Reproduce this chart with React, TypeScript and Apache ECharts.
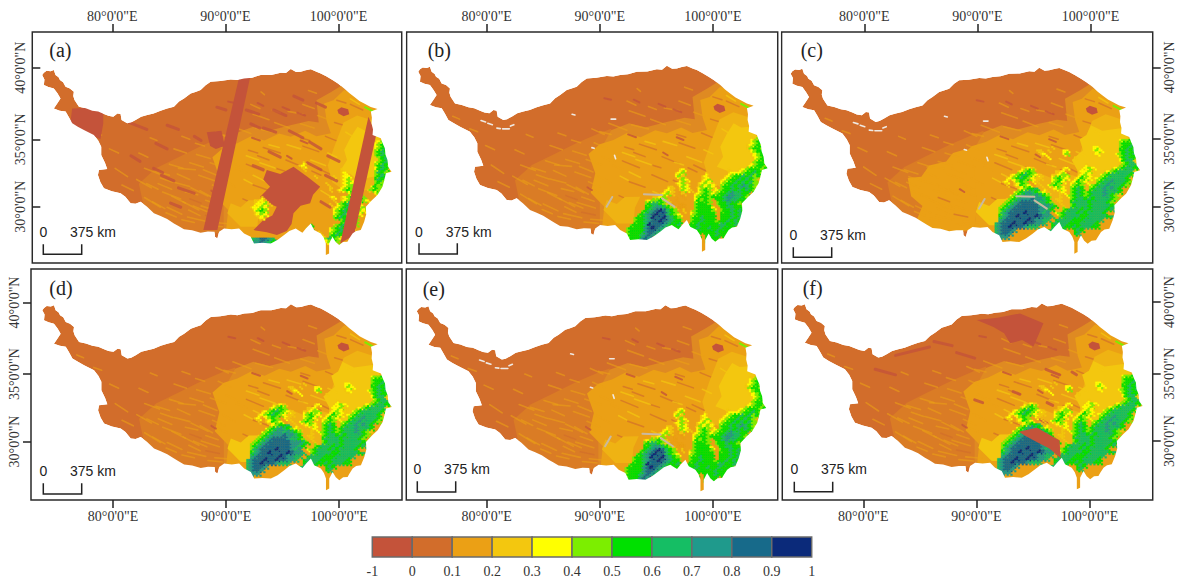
import React, { useEffect, useRef } from "react";
import * as echarts from "echarts";

const CLASS_COLORS = ["#C4533A", "#D26D2B", "#EBA015", "#F3C70F", "#FFFF00", "#7CEE00", "#00E000", "#15BE64", "#1F9A8C", "#176A8A", "#0B2A7A"];
const MIX_WEST = "#DA7C25";
const MIX_HALO = "#DF8A22";
const MIX_YELLOW = "#EFB313";
const LEGEND_TICKS = ["-1", "0", "0.1", "0.2", "0.3", "0.4", "0.5", "0.6", "0.7", "0.8", "0.9", "1"];
const LON_TICKS = [80, 90, 100];
const LAT_TICKS = [40, 34.85, 30];

const OUTLINE = [
  [73.95,39.71],[74.1,39.88],[74.34,40.02],[74.7,39.98],[74.98,40.07],[75.13,39.71],[75.4,39.55],[75.52,39.35],[75.8,39.2],[76.02,38.87],[76.4,38.75],[76.75,38.51],[76.7,38.2],[76.81,37.91],[77.2,37.43],
  [77.8,37.32],[78.38,37.15],[78.9,37.08],[79.41,36.91],[79.8,36.78],[80.24,36.72],[80.6,36.95],[80.88,36.91],[80.97,36.48],[81.47,36.24],[81.8,36.3],[82.21,36.48],[82.7,36.72],[83.24,36.84],[83.8,36.95],[84.42,37.15],
  [85,37.3],[85.6,37.43],[86.05,37.8],[86.49,38.03],[87.08,38.39],[87.5,38.5],[87.96,38.63],[88.4,38.98],[88.85,39.23],[89.7,39.28],[90.62,39.4],[91.2,39.36],[91.8,39.47],[92.5,39.52],[93.27,39.71],
  [94.2,39.72],[95.04,39.88],[95.5,39.85],[95.93,40.14],[96.4,39.93],[96.81,39.95],[97.25,40.05],[97.7,40.12],[98.2,39.95],[98.58,39.83],[99.1,39.6],[99.62,39.35],[100.1,39.1],[100.65,38.75],[101.1,38.42],
  [101.53,38.15],[102,37.85],[102.42,37.67],[103,37.42],[103.6,37.27],[103.01,37.08],[103.1,36.65],[103.07,36.24],[103.2,35.8],[103.16,35.4],[103.89,35.16],[104.05,34.8],[104.25,34.44],[104.3,34],[104.48,33.6],
  [104.55,33.1],[104.84,32.76],[104.34,32.64],[104.2,32.15],[104.04,31.68],[103.6,31.08],[103.1,30.7],[102.57,30.24],[102.6,29.7],[102.42,29.16],[102.12,28.56],[101.7,28.5],[101.39,28.32],[101.1,27.95],[100.94,27.72],
  [100.55,27.7],[100.21,27.48],[99.9,27.7],[99.62,28.08],[99.32,27.6],[99.32,26.88],[99.03,26.76],[99.03,27.6],[98.85,28],[98.58,28.32],[97.99,28.56],[97.7,29.04],[97.3,28.7],[96.96,28.37],[96.6,28.55],
  [96.37,28.68],[95.8,28.5],[95.34,28.2],[94.75,27.85],[94.16,27.6],[93.4,27.65],[92.68,27.6],[92.39,28.08],[91.8,28.32],[91.36,28.68],[90.7,28.62],[90.03,28.68],[89.59,28.44],[89.44,27.96],[89.23,28.08],
  [89.2,28.44],[88.6,28.45],[87.96,28.37],[87.2,28.55],[86.49,28.61],[86,28.85],[85.6,29.04],[85,29.35],[84.42,29.57],[83.83,29.76],[83.2,30.25],[82.65,30.6],[82.2,30.45],[81.77,30.48],[81.3,30.95],
  [80.88,31.2],[80.1,31.35],[79.41,31.56],[79.1,32],[78.88,32.52],[78.97,32.88],[79.7,32.95],[79.5,33.4],[79.17,33.96],[79.17,34.56],[78.9,35],[78.52,35.4],[77.64,35.76],[77.1,36],[76.61,36.24],
  [76.3,36.7],[76.02,37.08],[75.5,37.15],[74.98,37.31],[75.28,37.67],[75.57,38.03],[75.3,38.4],[74.98,38.75],[74.5,38.85],[74.1,38.99],[74.15,39.4],
];

const ZONE_MIX_WEST = [[82.5,31.9],[84,33],[86,33.8],[88,34.6],[90,35.3],[91,35.6],[91,28.4],[86,28.2],[84,29.2],[83,30]];
const ZONE_HALO = [[91,35.5],[92.6,36],[94,35.7],[95.9,36.1],[97.5,36.4],[98.4,36.3],[98.2,37.9],[99.5,38.5],[100.5,39],[104.9,38],[104.9,26.7],[92,26.7],[90,28.3],[90,34]];
const ZONE_ORANGE = [[89,33.8],[90,34.5],[91.2,34.8],[92.4,35.3],[93.6,35],[94.9,35.5],[95.93,35.28],[97.2,35.7],[98.2,35.3],[99.47,35.52],[99.1,36.4],[98.88,37.67],[99.7,37.9],[100.65,38.63],[104.9,37.4],[104.9,26.7],[92.98,26.7],[91.5,28.1],[90.2,28.5],[90.4,30],[89.2,31],[89.6,32.4]];
const ZONE_ORANGE_WEST = [[84.3,32.2],[85.5,32.3],[86.2,33.1],[87.7,33.4],[88.3,34],[89.5,34.3],[90.2,33],[90.4,30],[90.2,28.5],[87,28.2],[85,29],[85.6,30.2],[84.6,30.9]];
const ZONE_YELLOW_HALO = [[99.8,34.6],[100.6,36.3],[101.8,36.8],[103.3,36.4],[104.8,34.5],[104.9,32],[103,31.5],[101,31.2],[99.6,32],[99.2,33.2]];
const ZONE_YELLOW_EAST = [[100.65,34.32],[101.2,35.2],[101.83,36],[102.5,35.7],[103.3,35.76],[104,34.9],[104.5,33.84],[104.66,32.4],[103.2,32.4],[101.83,32.16],[101.2,32.6],[100.35,32.88],[100.9,33.6]];
const ZONE_YELLOW_SOUTH = [[90.62,30.48],[91.5,30.2],[92.2,30.7],[93.57,30.72],[93.1,29.9],[92.98,28.8],[91.5,28.8],[90.32,29.76]];
const ZONE_YELLOW_EAST_WIDE = [[99.5,35],[100.1,35.3],[100.5,36],[101.5,35.6],[103.3,35.8],[104.6,33.8],[104.6,32.4],[101.8,32],[100,31.5],[99.4,32.6],[98.8,33.5],[99.8,34.2]];
const ZONE_YELLOW_MID = [[95.8,32.6],[97,32.2],[98.4,32.5],[100.3,32.1],[100.5,29.5],[99,30.2],[97.5,29.5],[96.8,30.8],[95.6,31.3]];
const LAKE = [[100.05,37.2],[100.4,37.4],[101,37.25],[101.1,36.9],[100.6,36.75],[100.15,36.95]];

const STREAKS_ORANGE = [
  [82.3,32.2,83.6,31.6],[83,30.9,84.4,30.2],[84,32.8,85.2,32.5],[84.6,31.3,86.2,30.8],[85,30.2,86.3,29.7],[85.6,32,87,31.7],[86,33,87.5,32.9],[86.4,30.6,87.8,30],
  [86.8,29.5,88.4,29.2],[87.1,31.6,88.6,31],[87.8,32.5,89.2,32.1],[88,30.3,89.6,29.9],[88.8,33.4,90.2,33],[88.9,31.4,90.3,30.9],[89.2,29.1,90.6,29],[89.9,32.2,91,31.7],
  [90.2,33.6,91.3,33.2],[90.6,30.4,91.8,30],[80.4,33,81.5,32.4],[81,31.8,82,31.4],[79.9,34.4,80.7,34.1],[82.5,34.1,83.3,33.8],[83.5,35.2,84.1,35],[85.6,34.4,86.7,34.1],
  [87.5,34.8,88.3,34.6],[89.3,35.6,90.4,35.2],[90.8,36,92.4,35.5],[92.6,36.9,94,36.5],[94.5,36.3,95.8,35.9],[95.7,37.1,97,36.9],[92.8,35.9,94.3,35.6],[96.8,36.2,98,35.9],
  [98.3,36.8,99.3,36.5],[77,36.5,77.6,36.3],[78.5,35.6,79.2,35.4],[93.3,38.5,93.6,38.3],
  [84.2,31.9,85.4,31.5],[84.9,29.8,85.8,29.5],[85.4,31,86.6,30.5],[85.9,32.6,87,32.2],[86.3,29.3,87.4,29.1],[86.6,31.3,87.7,31.1],[87,33.4,88.2,33.1],[87.3,30.3,88.5,29.9],
  [87.9,31.4,89,30.9],[88.2,32.9,89.4,32.5],[88.4,30.7,89.5,30.4],[88.6,28.9,89.9,28.8],[89,31.8,90.1,31.4],[83.2,31.9,84.2,31.5],[83.7,30.6,84.8,30.1],[84.4,32.3,85.5,32],
  [85.2,33.3,86.4,33],[86.9,30,87.9,29.6],[83,33,84.3,32.6],[87.6,34,88.8,33.7],[89.5,34.6,90.6,34.2],[86.3,35.3,87,35.1],
  [90,35.4,91,35.2],[92.4,37.6,93.2,37.3],[94.3,37.2,95,37],[97,37.6,98,37.3],[97.5,38.6,98.2,38.4],[91.1,33,92,32.7],
];
const STREAKS_BROWN = [
  [92,33.3,93.5,32.8],[93.5,34.5,95,34.1],[95.5,33.6,97,33.1],[97,34.6,98.4,34.2],[92.6,31.8,94,31.4],[94.6,32.3,96,31.8],[96.5,31.9,98,31.3],[98.3,33,99.6,32.5],
  [91.7,30.8,92.8,30.4],[99,35.3,100.2,34.9],[99.8,36.3,101,36],[101.2,37.6,102.3,37.2],[88.4,29.6,89.6,29.4],[87,30.8,88,30.5],[91,29.9,92,29.5],[93,33.9,94,33.6],
  [96.8,35.2,97.6,35],[100,37.9,100.8,37.7],[94.6,33,95.4,32.8],[92.2,34.3,93,34.1],[97.8,32.8,98.6,32.5],
];
const STREAKS_YELLOW = [
  [93.2,33.4,94.6,33],[95.6,34.7,96.8,34.4],[97.7,33.6,99,33.2],[92.6,32.5,93.6,32.1],[94.7,31.1,95.5,30.8],[98.6,31.4,99.4,31],[99.2,34.1,100,33.8],[101.2,38,102,37.6],
  [100.8,35.6,101.4,35.3],[91.8,32.2,92.5,31.9],[92,33.9,93.1,33.6],[96.6,33.2,97.4,33],[94,34.7,94.9,34.5],
];
const STREAKS_DARK = [
  [95.2,37.4,95.8,37.2],[93,37.7,93.5,37.5],[90.4,37.8,91,37.7],[96.5,37,97.2,36.8],[88.9,31.4,89.3,31.2],[92.5,35.2,93.2,35],[96.8,35,97.4,34.8],[95.6,33.9,96,33.7],
];
const STREAKS_NE_GREEN = [[102.5,37.4,103.2,37.1]];
const GAPS = [
  [80.9,35.65,81.2,35.62],[81.4,35.6,82,35.6],[87.55,36.65,87.8,36.6],[91.3,33.7,91.4,33.45],[89.3,34.25,89.5,34.2],[91,36.3,91.4,36.3],[79.5,36.2,79.9,36.1],[80.1,36,80.5,35.9],[82.1,35.8,82.4,35.9],
];
const SNOW = [[93.9,30.9,95.5,30.85],[95.5,30.6,96.6,30],[91.1,30.7,90.6,30]];

const RASTER_BE = [
  "..................................33545",
  "..................................45655",
  ".................................345655",
  ".................................356656",
  "..................................45665",
  "..................................34565",
  "...................................4566",
  "..................................35665",
  ".................................345665",
  "...............34...........3..34566656",
  "..............345.....3.....34445667656",
  "..............453....34....34566767565",
  "...............354...345..3456676765",
  "..............3453..34543.45667676755",
  "............33.454..35454.56676787654",
  "...........343.3543.45653456676767653",
  "..........3453.23..345654566787766",
  "........3345..2.2..456656667887765",
  "......3455653.2....46565.66787766",
  "......56776532.22..56665.5667665",
  "......66788765322..566664.6677666",
  ".....56789a9765.3.3566665.5667676",
  "....56789a997654..4566666.6667676",
  "...56678a99a8765..5667666.66676767",
  "...5667899a98766..56676665667676",
  "..56667a99987667.56676666677667",
  ".5666689a9876666.5667667667666",
  ".56666899876656.56676666676665",
  ".5666789875.66.667666.666766",
  "56666898........6676..6766",
  "6666688.........6676..676",
  "................667",
  "................66",
  "................67",
  "................67",
];
const RASTER_CDF = [
  ".................................45565",
  ".................................56665",
  "...............3..........44.....56676",
  "...........33.3...44......454....66767",
  "............34....45......34....456767",
  "..............4......3...........56766",
  ".................................4677",
  "........................3........35677",
  ".......3343.......34...3454....345677668",
  "......34565.....334...34453..34567777",
  "....345676543..33455..34543.456777776",
  "...3456765433..45654.346543456777776",
  "..34.4565.43...4564.34654..5677877765",
  "...3.34654..3.45653.4565.45677877765",
  "......345667.3.3454.5676.567787876",
  ".....4567876543..34.56765677787776",
  "....45678878765..3.456765677787653",
  "...356788898876.33..5677676777765",
  "..35678999987765.3..677776777765",
  ".3567899999988876.3.5677767777767",
  ".567899999998876..56777676777767",
  ".5789999a999878.45677767677776",
  ".67899a9999a9887.567777667777767",
  ".78999999a98877.6777766677777",
  "78999a99a99887.6777766677776",
  "7899a9998777...6777667677766",
  "789998........67766..676",
  "78998.........6776...67",
  "7888..........677",
  "................677",
  "................67",
  "................67",
  "................67",
];
const RASTER_A = [
  "..................................34565",
  "..................................45675",
  "..................................45676",
  "..................................56765",
  "..................................56765",
  "...................................5676",
  "...............3..................45676",
  "..............34..................56765",
  "...............3.........3........4676",
  ".........................34.......5765",
  "..................3....3.344......5676",
  ".........................3453.....676",
  ".....................3...34544....565",
  "......................3..34555...4655",
  "......................3.34565...3565",
  "...........................4565...45",
  "....3.................34.3456565....4",
  "..3343.................3.34565654",
  "..34453...............3.4567564",
  ".34454.................345675645",
  "..4565.................456765654",
  "..3454.................45675654",
  "...34..................5676565",
  ".........................56765",
  ".................6.....3567565",
  "................56....4567654",
  ".................5.3..456765",
  "....................3.56765",
  "56789987............457654",
  "56889876..........56.4565",
  "5678987..........567",
  "................56",
  "................56",
  "................56",
];
const A_STRIPE_MID = [[91.36,39.54],[92.33,39.54],[89.44,28.56],[88.2,28.56]];
const A_STRIPE_EAST = [[102.8,36.71],[103.48,35.4],[101.54,28.2],[100.3,27.6]];
const A_BLOCK_WEST = [[76.6,37.3],[79.35,37.4],[79.35,36.2],[79.1,35.1],[78.3,35.4],[76.4,36]];
const A_BLOT_SOUTH = [[93.81,32.88],[95,32.6],[96.17,33.12],[97.4,32.4],[98.53,31.68],[97.9,31.1],[97.64,30.48],[96.8,30.3],[96.17,29.76],[96,29],[95.58,28.5],[94.7,28.2],[93.81,28.4],[92.63,28.56],[93.51,29.28],[94.3,29.6],[94.69,30.24],[93.9,30.5],[93.22,30.96],[94.1,31.68],[93.5,32.2]];
const A_BLOT_NORTH = [[88.5,35.6],[89.8,35.7],[90.1,34.6],[89.3,34.4],[88.8,34.6]];
const A_STREAKS = [
  [81.6,36.3,83.2,35.8],[84.5,32.5,85.6,32.1],[85.3,30.5,86.2,30.2],[86,31.6,87.4,31.2],[83.8,33,84.6,32.7],[87.4,35.3,88,35],[85,36.1,86,35.8],[92,37.2,93.1,36.9],
  [94.4,37.2,95.5,36.8],[96.2,38.2,97,37.9],[98.2,37.7,99,37.4],[93.5,35.9,94.6,35.6],[95.8,35.7,97,35.2],[97.6,34.9,98.6,34.4],[99.2,33.9,100.2,33.5],[97.4,33.4,98.6,32.9],
  [94,34.2,95,33.8],[92.6,33.2,93.5,32.9],[99,32.5,100,32.1],[98.6,30.6,99.4,30.2],[92.4,36.2,93.2,35.9],[89.4,37.4,90.2,37.2],[84,34.8,85,34.4],[81.8,33.9,82.6,33.5],
];
const F_NORTH = [[90.18,38.94],[92,39.1],[94.01,39.42],[96.08,38.71],[95.6,37.8],[95.19,37.03],[94.2,37.5],[93.13,37.27],[92.6,38],[91.65,38.44]];
const F_SOUTH_BROWN = [[93.9,30.9],[95.5,31.2],[97.5,30.3],[97.6,29],[96.6,29.7],[95.4,30.2],[94.5,30.6]];
const F_STREAKS = [[83,36.4,86,37],[90,33.2,90.7,33],[93.4,33.8,94,33.6],[95.6,31.9,96.4,31.5],[96.4,33,96.9,32.8],[98.6,35.2,99,35],[86.4,37.4,88,37.1],[88.4,36.6,90,36.2],[96.3,35.4,97.5,35],[81.2,35.4,83,35]];

const PANELS = [
  { id: "(a)", left: 32.3, top: 32, width: 369.4, height: 231, tick80: 112.3, lat40: 67.7, dLon: -0.15, dLat: -0.24, xPos: "top", yPos: "left", inside: true, raster: RASTER_A, tag: [49.3, 50], bar: [43.3, 81.7, 244.3, 254.3, 232.3, 70] },
  { id: "(b)", left: 406.7, top: 32, width: 371, height: 231, tick80: 486.7, lat40: 67.7, dLon: 0, dLat: 0, xPos: "top", yPos: "", inside: false, raster: RASTER_BE, tag: [427.7, 50], bar: [419, 457.3, 243.3, 254, 231.7, 445.7] },
  { id: "(c)", left: 781.7, top: 32, width: 371, height: 231, tick80: 864.3, lat40: 67.3, dLon: -0.46, dLat: -0.17, xPos: "top", yPos: "right", inside: false, raster: RASTER_CDF, tag: [800.7, 50], bar: [793.3, 831.7, 247.3, 257.3, 235, 820] },
  { id: "(d)", left: 31, top: 269, width: 371, height: 231, tick80: 113, lat40: 302.5, dLon: -0.2, dLat: -0.27, xPos: "bottom", yPos: "left", inside: false, raster: RASTER_CDF, tag: [49.3, 288], bar: [43.3, 81.7, 483.3, 494, 471, 70] },
  { id: "(e)", left: 406.3, top: 269, width: 371.4, height: 231, tick80: 486.7, lat40: 302, dLon: -0.13, dLat: -0.38, xPos: "bottom", yPos: "", inside: false, raster: RASTER_BE, tag: [422.7, 288.7], bar: [417.3, 455.7, 481.3, 492, 469.3, 444] },
  { id: "(f)", left: 782.3, top: 269, width: 370.4, height: 231, tick80: 863.3, lat40: 302, dLon: -0.15, dLat: -0.24, xPos: "bottom", yPos: "right", inside: false, raster: RASTER_CDF, tag: [802.7, 288.3], bar: [794.3, 832.7, 481.7, 491.7, 469.3, 821] },
];

const PX_PER_LON = 11.31;
const PX_PER_LAT = 13.9;
const SERIF = "Liberation Serif";
const SANS = "Liberation Sans";
const LABEL_SIZE = 14;

function poly(pts: number[][], fill: string) { return { k: "poly", pts, fill }; }
function lines(list: number[][], color: string, w: number, opacity = 1) {
  return list.map((s) => ({ k: "line", pts: [[s[0], s[1]], [s[2], s[3]]], stroke: color, w, opacity }));
}
function classAt(raster: string[], r: number, c: number) {
  const row = raster[r];
  if (!row || c < 0 || c >= row.length || row[c] === ".") return -1;
  return row[c] === "a" ? 10 : Number(row[c]);
}
function cells(raster: string[]) {
  const out: any[] = [];
  const dLon = 1 / 6;
  const dLat = 0.125;
  const sub = (lon: number, lat: number, cls: number) => {
    if (cls < 0) return;
    out.push({ k: "poly", pts: [[lon, lat], [lon + dLon, lat], [lon + dLon, lat - dLat], [lon, lat - dLat]], fill: CLASS_COLORS[cls], edge: true });
  };
  raster.forEach((row, r) => {
    for (let c = 0; c < row.length; c++) {
      const v = classAt(raster, r, c);
      if (v < 0) continue;
      const lon = 92 + c / 3;
      const lat = 35 - r * 0.25;
      sub(lon, lat, v);
      sub(lon + dLon, lat - dLat, v);
      sub(lon + dLon, lat, classAt(raster, r, c + 1));
      sub(lon, lat - dLat, classAt(raster, r + 1, c));
    }
  });
  return out;
}

function panelItems(id: string, raster: string[]) {
  const wide = id === "(c)" || id === "(d)" || id === "(f)";
  const hasGaps = id === "(b)" || id === "(c)" || id === "(e)";
  const C = CLASS_COLORS;
  const items: any[] = [poly(OUTLINE, C[1]), poly(ZONE_MIX_WEST, MIX_WEST), poly(ZONE_HALO, MIX_HALO), poly(ZONE_ORANGE, C[2])];
  if (id === "(c)") items.push(poly(ZONE_ORANGE_WEST, C[2]));
  items.push(...lines(STREAKS_ORANGE, C[2], 1.6, 0.6), ...lines(STREAKS_BROWN, C[1], 1.5, 0.7));
  items.push(poly(ZONE_YELLOW_HALO, MIX_YELLOW), poly(wide ? ZONE_YELLOW_EAST_WIDE : ZONE_YELLOW_EAST, C[3]), poly(ZONE_YELLOW_SOUTH, wide ? C[3] : MIX_YELLOW), ...lines(STREAKS_YELLOW, C[3], 1.6, 0.7));
  if (wide) items.push(poly(ZONE_YELLOW_MID, MIX_YELLOW));
  items.push(poly(LAKE, C[0]), ...lines(STREAKS_DARK, C[0], 2, 0.8), ...lines(STREAKS_NE_GREEN, C[5], 2));
  if (id === "(f)") items.push(poly(F_NORTH, C[0]), ...lines(F_STREAKS, C[0], 3, 0.8));
  if (id === "(a)") items.push(poly(A_BLOT_SOUTH, C[0]), poly(A_BLOT_NORTH, C[0]), ...lines(A_STREAKS, C[0], 3, 0.8));
  items.push(...cells(raster));
  if (id === "(f)") items.push(poly(F_SOUTH_BROWN, C[0]));
  if (hasGaps) items.push(...lines(GAPS, "#EFE9E2", 1.6), ...lines(SNOW, "#C9B9A0", 2));
  if (id === "(a)") items.push(poly(A_STRIPE_MID, C[0]), poly(A_STRIPE_EAST, C[0]), poly(A_BLOCK_WEST, C[0]));
  items.push({ k: "mask" });
  return items;
}

function buildOption() {
  const grid: any[] = [];
  const xAxis: any[] = [];
  const yAxis: any[] = [];
  const series: any[] = [];
  const elements: any[] = [];
  const axisLine = { show: false };
  const tickLine = { color: "#222", width: 1.5 };

  PANELS.forEach((p, i) => {
    const lonMin = 80 - (p.tick80 - p.left) / PX_PER_LON;
    const latMax = 40 + (p.lat40 - p.top) / PX_PER_LAT;
    grid.push({ left: p.left, top: p.top, width: p.width, height: p.height, show: true, borderColor: "#2A2A2A", borderWidth: 1.5, backgroundColor: "#fff" });
    xAxis.push({
      type: "value", gridIndex: i, position: p.xPos, min: lonMin, max: lonMin + p.width / PX_PER_LON, z: 10,
      splitLine: { show: false }, axisLine,
      axisTick: { show: true, length: 8, lineStyle: tickLine, customValues: LON_TICKS },
      axisLabel: { show: true, margin: 9, fontFamily: SERIF, fontSize: LABEL_SIZE, color: "#333", customValues: LON_TICKS, formatter: (v: number) => `${Math.round(v)}°0'0"E` },
    });
    yAxis.push({
      type: "value", gridIndex: i, position: p.yPos || "left", show: !!p.yPos, min: latMax - p.height / PX_PER_LAT, max: latMax, z: 10,
      splitLine: { show: false }, axisLine,
      axisTick: { show: true, inside: p.inside, length: 8, lineStyle: tickLine, customValues: LAT_TICKS },
      axisLabel: { show: true, rotate: 90, margin: p.inside ? 5 : 10, fontFamily: SERIF, fontSize: LABEL_SIZE, color: "#333", customValues: LAT_TICKS, formatter: (v: number) => `${Math.round(v / 5) * 5}°0'0"N` },
    });
    const items = panelItems(p.id, p.raster);
    series.push({
      type: "custom", xAxisIndex: i, yAxisIndex: i, silent: true, progressive: 0, animation: false, clip: true,
      data: items.map((_, n) => n),
      renderItem: (params: any, api: any) => {
        const it = items[params.dataIndex];
        const at = (q: number[]) => api.coord([q[0] + p.dLon, q[1] + p.dLat]);
        if (it.k === "poly") {
          const style: any = { fill: it.fill };
          if (it.edge) { style.stroke = it.fill; style.lineWidth = 0.3; }
          return { type: "polygon", shape: { points: it.pts.map(at) }, style };
        }
        if (it.k === "line") {
          return { type: "polyline", shape: { points: it.pts.map(at) }, style: { fill: "none", stroke: it.stroke, lineWidth: it.w, lineCap: "round", opacity: it.opacity } };
        }
        const cs = params.coordSys;
        const x0 = cs.x + 1, y0 = cs.y + 1, x1 = cs.x + cs.width - 1, y1 = cs.y + cs.height - 1;
        const ring = OUTLINE.map(at);
        const points = [[x0, y0], [x0, y1], [x1, y1], [x1, y0], [x0, y0], ...ring, ring[0]];
        return { type: "polygon", shape: { points }, style: { fill: "#FFFFFF" } };
      },
    });
    elements.push({ type: "text", x: p.tag[0], y: p.tag[1], z: 20, style: { text: p.id, fontFamily: SERIF, fontSize: 20, fill: "#222", textVerticalAlign: "middle" } });
    const [bx0, bx1, by0, by1, ty, kx] = p.bar;
    elements.push({ type: "polyline", z: 20, shape: { points: [[bx0, by0], [bx0, by1], [bx1, by1], [bx1, by0]] }, style: { fill: "none", stroke: "#222", lineWidth: 1.5 } });
    elements.push({ type: "text", x: bx0, y: ty, z: 20, style: { text: "0", fontFamily: SANS, fontSize: 14, fill: "#222", textAlign: "center", textVerticalAlign: "middle" } });
    elements.push({ type: "text", x: kx, y: ty, z: 20, style: { text: "375 km", fontFamily: SANS, fontSize: 14, fill: "#222", textVerticalAlign: "middle" } });
  });

  const li = PANELS.length;
  grid.push({ left: 372.3, top: 537, width: 439.4, height: 20, show: false });
  const ticks = LEGEND_TICKS.map((_, n) => n);
  xAxis.push({
    type: "value", gridIndex: li, min: 0, max: CLASS_COLORS.length, splitLine: { show: false },
    axisLine: { show: false }, axisTick: { show: false, customValues: ticks },
    axisLabel: { show: true, margin: 7, fontFamily: SERIF, fontSize: LABEL_SIZE, color: "#333", customValues: ticks, formatter: (v: number) => LEGEND_TICKS[Math.round(v)] },
  });
  yAxis.push({ type: "value", gridIndex: li, min: 0, max: 1, show: false });
  series.push({
    type: "custom", xAxisIndex: li, yAxisIndex: li, silent: true, animation: false,
    data: CLASS_COLORS.map((_, n) => n),
    renderItem: (params: any, api: any) => {
      const n = params.dataIndex;
      const a = api.coord([n, 1]);
      const b = api.coord([n + 1, 0]);
      return { type: "rect", shape: { x: a[0], y: a[1], width: b[0] - a[0], height: b[1] - a[1] }, style: { fill: CLASS_COLORS[n], stroke: "#6B6B6B", lineWidth: 1.5 } };
    },
  });

  return { animation: false, backgroundColor: "#fff", grid, xAxis, yAxis, series, graphic: { elements } };
}

export default function App() {
  const ref = useRef<HTMLDivElement>(null);
  useEffect(() => {
    if (!ref.current) return;
    const chart = echarts.init(ref.current, undefined, { renderer: "svg" });
    chart.setOption(buildOption() as any);
    return () => chart.dispose();
  }, []);
  return <div ref={ref} style={{ position: "absolute", left: 0, top: 0, width: 1179, height: 582 }} />;
}
